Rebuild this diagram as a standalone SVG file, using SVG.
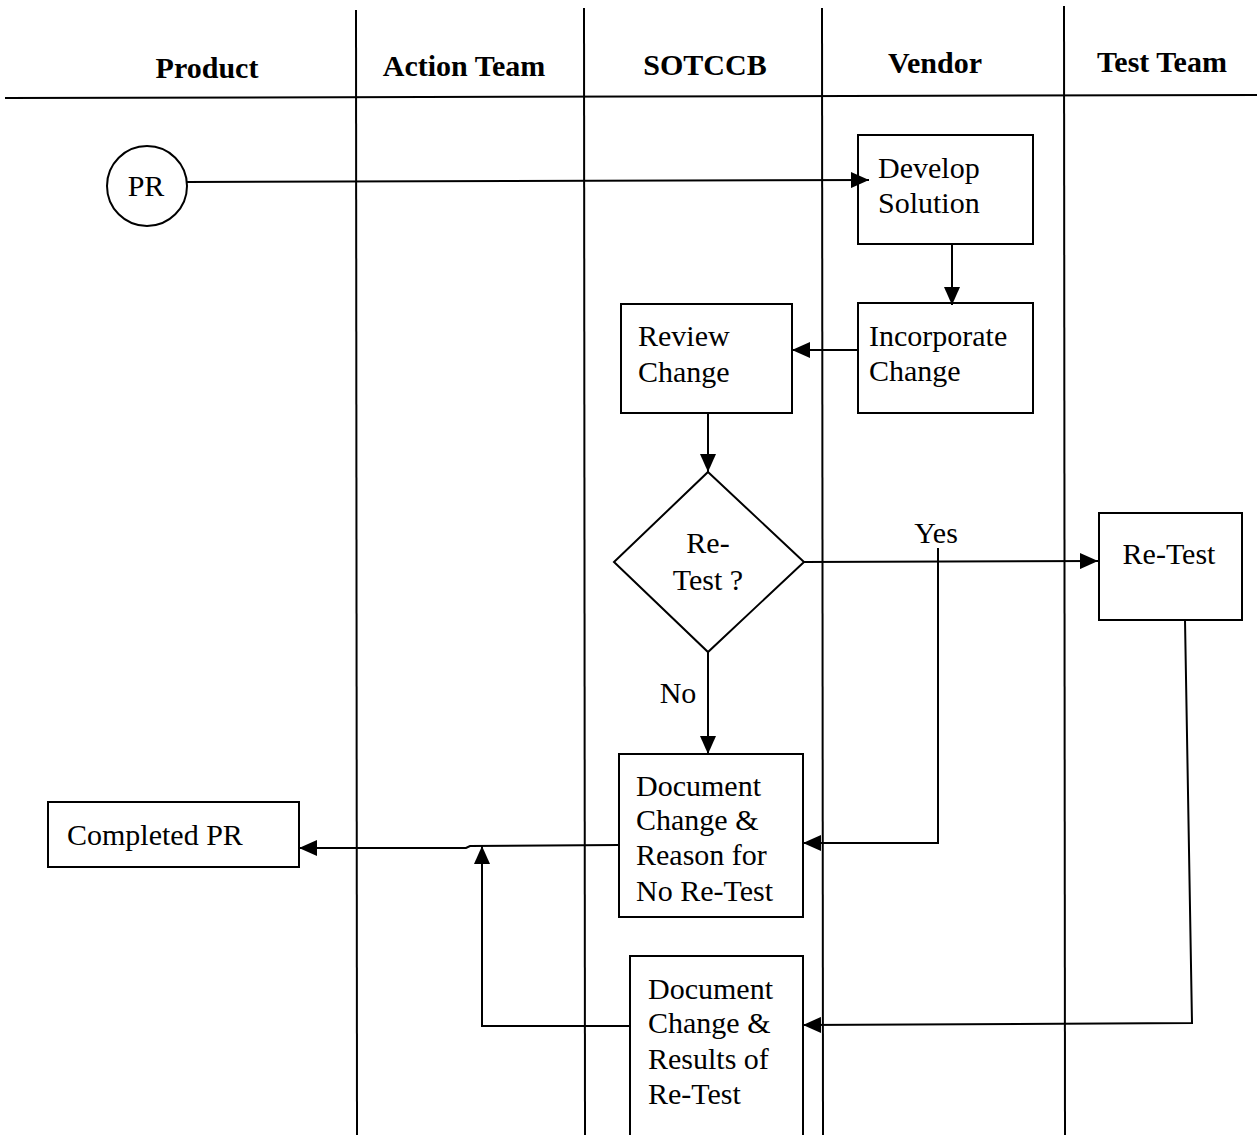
<svg xmlns="http://www.w3.org/2000/svg" width="1257" height="1135" viewBox="0 0 1257 1135">
<style>
.lane{stroke:#000;stroke-width:2;fill:none}
.box{stroke:#000;stroke-width:2;fill:#fff}
.conn{stroke:#000;stroke-width:2;fill:none}
.hdr{font-family:"Liberation Serif","Times New Roman",serif;font-size:30px;font-weight:bold;fill:#000}
.t{font-family:"Liberation Serif","Times New Roman",serif;font-size:30px;fill:#000}
</style>
<defs>
<marker id="ah" viewBox="0 0 18 16" refX="18" refY="8" markerWidth="18" markerHeight="16" markerUnits="userSpaceOnUse" orient="auto">
<path d="M0,0 L18,8 L0,16 Z" fill="#000"/>
</marker>
</defs>
<rect width="1257" height="1135" fill="#fff"/>
<g id="lanes">
<line class="lane" x1="5" y1="98" x2="1257" y2="95"/>
<line class="lane" x1="356" y1="10" x2="357" y2="1135"/>
<line class="lane" x1="584" y1="8" x2="585" y2="1135"/>
<line class="lane" x1="822" y1="8" x2="823" y2="1135"/>
<line class="lane" x1="1064" y1="6" x2="1065" y2="1135"/>
<text class="hdr" x="207" y="78" text-anchor="middle">Product</text>
<text class="hdr" x="464" y="76" text-anchor="middle">Action Team</text>
<text class="hdr" x="705" y="75" text-anchor="middle">SOTCCB</text>
<text class="hdr" x="935" y="73" text-anchor="middle">Vendor</text>
<text class="hdr" x="1162" y="72" text-anchor="middle">Test Team</text>
</g>
<g id="node-pr">
<circle class="box" cx="147" cy="186" r="40"/>
<text class="t" x="146" y="196" text-anchor="middle">PR</text>
</g>
<g id="node-develop">
<rect class="box" x="858" y="135" width="175" height="109"/>
<text class="t" x="878" y="178">Develop</text>
<text class="t" x="878" y="213">Solution</text>
</g>
<g id="node-incorporate">
<rect class="box" x="858" y="303" width="175" height="110"/>
<text class="t" x="869" y="346">Incorporate</text>
<text class="t" x="869" y="381">Change</text>
</g>
<g id="node-review">
<rect class="box" x="621" y="304" width="171" height="109"/>
<text class="t" x="638" y="346">Review</text>
<text class="t" x="638" y="382">Change</text>
</g>
<g id="node-retest-decision">
<polygon class="box" points="708,472 804,562 708,652 614,562"/>
<text class="t" x="708" y="553" text-anchor="middle">Re-</text>
<text class="t" x="708" y="590" text-anchor="middle">Test ?</text>
</g>
<g id="node-retest">
<rect class="box" x="1099" y="513" width="143" height="107"/>
<text class="t" x="1169" y="564" text-anchor="middle">Re-Test</text>
</g>
<g id="node-doc-noretest">
<rect class="box" x="619" y="754" width="184" height="163"/>
<text class="t" x="636" y="796">Document</text>
<text class="t" x="636" y="830">Change &amp;</text>
<text class="t" x="636" y="865">Reason for</text>
<text class="t" x="636" y="901">No Re-Test</text>
</g>
<g id="node-doc-results">
<rect class="box" x="630" y="956" width="173" height="190"/>
<text class="t" x="648" y="999">Document</text>
<text class="t" x="648" y="1033">Change &amp;</text>
<text class="t" x="648" y="1069">Results of</text>
<text class="t" x="648" y="1104">Re-Test</text>
</g>
<g id="node-completed">
<rect class="box" x="48" y="802" width="251" height="65"/>
<text class="t" x="67" y="845">Completed PR</text>
</g>
<g id="connectors">
<line class="conn" x1="187" y1="182" x2="869" y2="180" marker-end="url(#ah)"/>
<line class="conn" x1="952" y1="244" x2="952" y2="305" marker-end="url(#ah)"/>
<line class="conn" x1="858" y1="350" x2="792" y2="350" marker-end="url(#ah)"/>
<line class="conn" x1="708" y1="413" x2="708" y2="472" marker-end="url(#ah)"/>
<line class="conn" x1="804" y1="562" x2="1098" y2="561" marker-end="url(#ah)"/>
<text class="t" x="936" y="543" text-anchor="middle">Yes</text>
<line class="conn" x1="708" y1="652" x2="708" y2="754" marker-end="url(#ah)"/>
<text class="t" x="678" y="703" text-anchor="middle">No</text>
<polyline class="conn" points="938,548 938,843 803,843" marker-end="url(#ah)"/>
<polyline class="conn" points="1185,620 1192,1023 803,1025" marker-end="url(#ah)"/>
<polyline class="conn" points="619,845 470,846 466,848 299,848" marker-end="url(#ah)"/>
<polyline class="conn" points="630,1026 482,1026 482,846" marker-end="url(#ah)"/>
</g>
</svg>
